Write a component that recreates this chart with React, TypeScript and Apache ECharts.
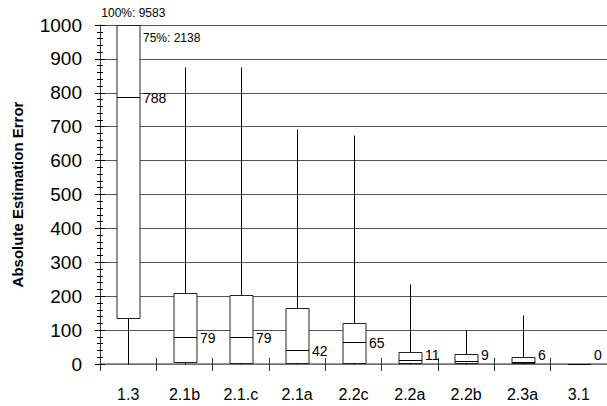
import React, { useEffect, useRef } from "react";
import * as echarts from "echarts";

const CATEGORIES = ["1.3", "2.1b", "2.1.c", "2.1a", "2.2c", "2.2a", "2.2b", "2.3a", "3.1"];
const MIN_VALUES = [0, 0, 0, 0, 0, 0, 0, 0, 0];
const Q1_VALUES = [135, 5, 4, 2, 2, 3, 3, 3, 0];
const MEDIAN_VALUES = [788, 79, 79, 42, 65, 11, 9, 6, 0];
const Q3_VALUES = [2138, 209, 204, 165, 121, 35, 29, 21, 0];
const MAX_VALUES = [9583, 876, 875, 693, 675, 236, 100, 145, 0];
const Y_MIN = 0;
const Y_MAX = 1000;
const Y_INTERVAL = 100;
const Y_TITLE = "Absolute Estimation Error";

const FONT = "'Liberation Sans', Arial, sans-serif";

export default function App() {
  const ref = useRef<HTMLDivElement>(null);

  useEffect(() => {
    if (!ref.current) return;
    const chart = echarts.init(ref.current, null, { renderer: "svg" });
    const data = CATEGORIES.map((_, i) => [
      i,
      MIN_VALUES[i],
      Q1_VALUES[i],
      MEDIAN_VALUES[i],
      Q3_VALUES[i],
      MAX_VALUES[i],
    ]);

    const renderItem = (params: any, api: any) => {
      const idx = api.value(0);
      const mn = api.value(1);
      const q1 = api.value(2);
      const med = api.value(3);
      const q3 = api.value(4);
      const mx = api.value(5);
      const clamp = (v: number) => Math.min(v, Y_MAX);
      const band = api.size([1, 0])[0];
      const cx = Math.round(api.coord([idx, 0])[0]) + 0.5;
      const bw = Math.round(band * 0.41);
      const yZero = api.coord([idx, Y_MIN])[1];
      const yTop = api.coord([idx, Y_MAX])[1];
      const yMin = Math.round(api.coord([idx, clamp(mn)])[1]) + 0.5;
      const yMax = Math.round(api.coord([idx, clamp(mx)])[1]) + 0.5;
      const yQ1 = Math.round(api.coord([idx, clamp(q1)])[1]) + 0.5;
      const yQ3 = Math.round(api.coord([idx, clamp(q3)])[1]) + 0.5;
      const yMed = Math.round(api.coord([idx, clamp(med)])[1]) + 0.5;
      const left = cx - bw / 2;
      const right = cx + bw / 2;
      const children: any[] = [
        {
          type: "line",
          shape: { x1: cx, y1: yMax, x2: cx, y2: yMin },
          style: { stroke: "#000", lineWidth: 1 },
        },
        {
          type: "rect",
          shape: { x: left, y: yQ3, width: bw, height: yQ1 - yQ3 },
          style: { fill: "#fff", stroke: "#222", lineWidth: 1 },
        },
        {
          type: "line",
          shape: { x1: left, y1: yMed, x2: right, y2: yMed },
          style: { stroke: "#000", lineWidth: 1 },
        },
        {
          type: "text",
          style: {
            text: String(med),
            x: right + 3,
            y: Math.min(yMed, yZero - 9),
            verticalAlign: "middle",
            align: "left",
            fontSize: 14,
            fontFamily: FONT,
            fill: "#000",
          },
        },
      ];
      if (mx > Y_MAX) {
        children.push({
          type: "text",
          style: {
            text: "100%: " + mx,
            x: cx - band / 2 + 1,
            y: yTop - 12,
            verticalAlign: "middle",
            align: "left",
            fontSize: 12,
            fontFamily: FONT,
            fill: "#000",
          },
        });
      }
      if (q3 > Y_MAX) {
        children.push({
          type: "text",
          style: {
            text: "75%: " + q3,
            x: right + 3,
            y: yTop + 13,
            verticalAlign: "middle",
            align: "left",
            fontSize: 12,
            fontFamily: FONT,
            fill: "#000",
          },
        });
      }
      return { type: "group", children };
    };

    chart.setOption({
      animation: false,
      grid: { left: 100, right: 0, top: 25, bottom: 42, containLabel: false },
      xAxis: [
        {
          type: "category",
          data: CATEGORIES,
          position: "bottom",
          boundaryGap: true,
          axisLine: { show: true, lineStyle: { color: "#777", width: 1.5 } },
          axisTick: { show: true, inside: false, length: 7, interval: 0, lineStyle: { color: "#333" } },
          axisLabel: { fontSize: 16, fontFamily: FONT, color: "#000", margin: 22, interval: 0 },
          splitLine: { show: false },
        },
        {
          type: "category",
          data: CATEGORIES,
          position: "bottom",
          boundaryGap: true,
          axisLine: { show: false },
          axisTick: { show: true, inside: true, length: 6, interval: 0, lineStyle: { color: "#333" } },
          axisLabel: { show: false },
          splitLine: { show: false },
        },
      ],
      yAxis: [
        {
          type: "value",
          min: Y_MIN,
          max: Y_MAX,
          interval: Y_INTERVAL,
          position: "left",
          name: Y_TITLE,
          nameLocation: "middle",
          nameGap: 75,
          nameTextStyle: { fontSize: 15, fontWeight: "bold", fontFamily: FONT, color: "#000" },
          axisLine: { show: true, lineStyle: { color: "#333", width: 1 } },
          axisTick: { show: true, inside: false, length: 5, lineStyle: { color: "#000" } },
          minorTick: { show: true, splitNumber: 5, length: 3, lineStyle: { color: "#000" } },
          axisLabel: {
            fontSize: 19,
            fontFamily: FONT,
            color: "#000",
            margin: 18,
            formatter: (v: number) => String(v),
          },
          splitLine: { show: true, lineStyle: { color: "#555", width: 1 } },
        },
        {
          type: "value",
          min: Y_MIN,
          max: Y_MAX,
          interval: Y_INTERVAL,
          position: "left",
          axisLine: { show: false },
          axisTick: { show: true, inside: true, length: 5, lineStyle: { color: "#000" } },
          minorTick: { show: true, splitNumber: 5, length: 3, lineStyle: { color: "#000" } },
          axisLabel: { show: false },
          splitLine: { show: false },
        },
      ],
      series: [
        {
          type: "custom",
          xAxisIndex: 0,
          yAxisIndex: 0,
          renderItem,
          encode: { x: 0, y: [1, 2, 3, 4, 5] },
          data,
          clip: false,
          z: 5,
        },
      ],
    });
    return () => chart.dispose();
  }, []);

  return (
    <div
      ref={ref}
      style={{ position: "fixed", left: 0, top: 0, width: 607, height: 406, background: "#fff" }}
    />
  );
}
